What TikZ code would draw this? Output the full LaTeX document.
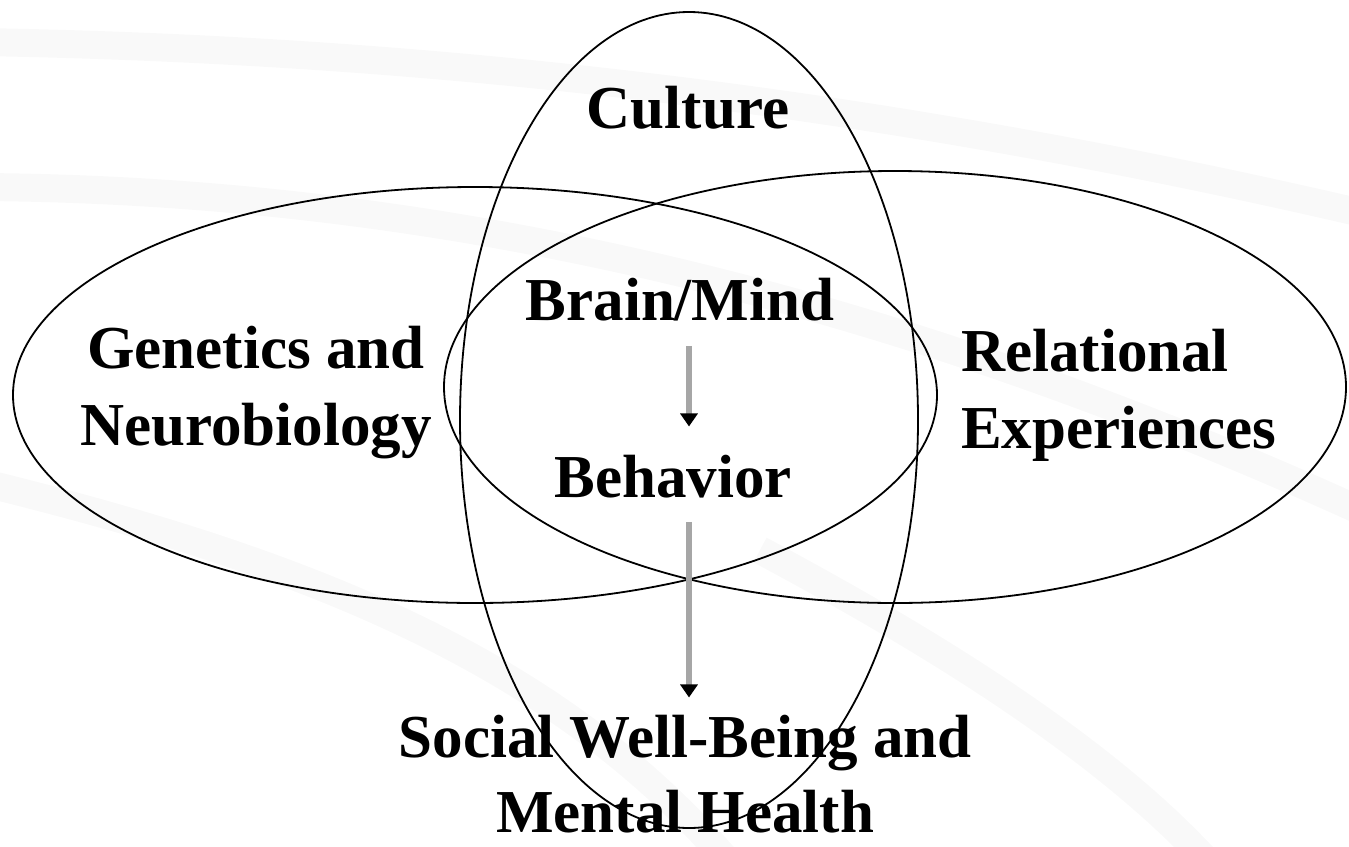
\documentclass[tikz,border=0pt]{standalone}
\usepackage{fontspec}
\setmainfont{Liberation Serif}
\usetikzlibrary{arrows.meta}
\definecolor{swoosh}{RGB}{249,249,249}
\definecolor{flowgray}{RGB}{166,166,166}

\begin{document}
\begin{tikzpicture}[x=1pt,y=-1pt]
\tikzstyle{ring} = [draw, line width=1.8pt] % outline of a sphere
\tikzstyle{lbl} = [inner sep=0pt, font=\fontsize{61}{77}\selectfont\bfseries] % sphere and box labels
\tikzstyle{flow} = [draw=flowgray, line width=6pt, -{Triangle[length=13pt,width=17pt,color=black]}] % gray shaft, black tip
\tikzstyle{band} = [swoosh, line width=28pt] % faint backdrop stroke

\useasboundingbox (0,0) rectangle (1349,846);

% faint backdrop arcs
\draw[band] (-20,42) .. controls (450,50) and (900,105) .. (1370,215);
\draw[band] (-20,187) .. controls (450,190) and (900,300) .. (1370,515);
\draw[band] (-20,482) .. controls (300,560) and (560,660) .. (735,870);
\draw[band] (760,550) .. controls (900,625) and (1100,740) .. (1215,870);

% the three spheres
\draw[ring] (475,395) ellipse [x radius=462pt, y radius=208pt]; % genetics
\draw[ring] (895,387) ellipse [x radius=451pt, y radius=216pt]; % relational
\draw[ring] (689,420) ellipse [x radius=229pt, y radius=408pt]; % culture

\coordinate (axis) at (689,0);

% labels (base = baseline of the last line)
\node[lbl, anchor=base] (culture) at (688,128) {Culture};
\node[lbl, anchor=base] (brain) at (680,320) {Brain/Mind};
\node[lbl, anchor=base] (behav) at (673,497) {Behavior};
\node[lbl, align=center, anchor=base] (genet) at (256,445) {Genetics and\\Neurobiology};
\node[lbl, align=left, anchor=base west] (relat) at (961,448) {Relational\\Experiences};
\node[lbl, font=\fontsize{61}{75}\selectfont\bfseries, align=center, anchor=base] (social) at (685,832) {Social Well-Being and\\Mental Health};

% brain -> behavior -> well-being
\draw[flow, shorten <=25pt, shorten >=28pt] (brain.south -| axis) -- (behav.north -| axis);
\draw[flow, shorten <=24pt, shorten >=17pt] (behav.south -| axis) -- (social.north -| axis);
\end{tikzpicture}
\end{document}
